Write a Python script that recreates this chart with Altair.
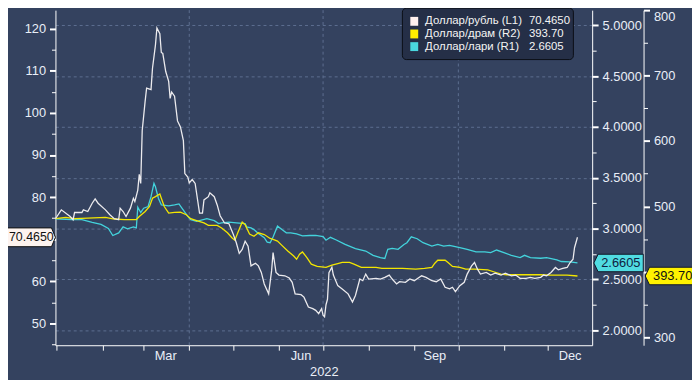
import altair as alt
import pandas as pd

# ---------------- data ----------------
START = pd.Timestamp("2021-12-31")  # day 0 of the day offsets below

rub_days = [0, 4, 10, 12, 13, 18, 19, 22, 25, 27, 29, 34, 37, 40, 43, 44, 46, 48, 51, 53,
            54, 56, 57, 58, 59, 61, 62, 65, 66, 68, 69, 71, 72, 73, 75, 77, 78, 79, 81, 83,
            85, 87, 88, 90, 91, 93, 95, 98, 100, 101, 104, 105, 108, 110, 112, 115, 118, 121, 123, 125,
            127, 129, 131, 133, 136, 138, 140, 142, 145, 147, 148, 150, 152, 156, 159, 161, 163, 167, 169, 172,
            175, 177, 179, 181, 182, 183, 184, 185, 186, 188, 189, 192, 195, 199, 202, 204, 207, 209, 211, 213,
            218, 221, 224, 227, 229, 232, 234, 238, 241, 244, 249, 252, 256, 259, 262, 265, 268, 270, 272, 275,
            278, 280, 283, 285, 287, 289, 293, 296, 299, 303, 306, 310, 313, 316, 320, 323, 326, 330, 332, 334,
            337, 340, 342, 345, 348, 350, 352, 353, 355]
rub_vals = [74.87, 76.98, 75.41, 74.63, 76.35, 76.35, 76.98, 76.58, 78.55, 79.56,
            78.55, 76.98, 75.81, 74.87, 74.63, 77.38, 76.58, 75.41, 77.38, 79.72,
            78.93, 81.67, 85.42, 83.24, 95.75, 102.79, 105.9, 105.53, 110.6, 116.09,
            120.15, 118.81, 114.35, 114.12, 109.82, 107.48, 103.42, 104.97, 103.96, 98.09,
            96.68, 93.40, 85.59, 84.79, 83.38, 84.18, 83.24, 76.2, 76.2, 79.33,
            80.1, 81.04, 80.1, 78.15, 75.57, 73.86, 73.69, 71.11, 69.17, 66.66,
            67.6, 69.54, 68.37, 63.68, 64.31, 63.68, 62.13, 59.38, 57.04, 62.55,
            66.82, 62.13, 61.5, 61.33, 60.79, 59.78, 57.04, 56.85, 56.26, 53.92,
            53.52, 53.12, 52.35, 53.52, 51.95, 51.57, 54.46, 55.75, 62.08, 63.37,
            61.5, 58.99, 58.21, 57.04, 55.09, 56.64, 60.56, 60.16, 61.73, 60.56,
            60.72, 60.56, 60.96, 61.5, 60.56, 59.38, 59.92, 59.78, 60.56, 60.16,
            61.33, 60.96, 60.16, 59.92, 60.56, 58.61, 58.21, 58.61, 57.58, 58.99,
            59.78, 61.73, 63.68, 64.47, 62.9, 61.73, 62.13, 61.5, 61.96, 61.5,
            61.96, 61.33, 61.5, 60.72, 60.72, 60.96, 60.72, 60.96, 61.5, 61.33,
            62.13, 63.3, 62.74, 63.07, 63.3, 64.47, 65.25, 67.99, 70.465]

lari_days = [0, 11, 18, 25, 31, 36, 39, 43, 46, 49, 53, 55, 56, 58, 60, 63, 65, 67, 68, 70,
             72, 77, 81, 84, 86, 90, 92, 96, 103, 108, 111, 113, 118, 123, 129, 130, 133, 135, 138, 142,
             144, 146, 148, 151, 154, 157, 160, 164, 168, 173, 177, 182, 184, 187, 191, 197, 204, 211, 216, 221,
             224, 226, 229, 233, 237, 239, 242, 246, 250, 256, 260, 264, 268, 275, 280, 286, 292, 296, 300, 305,
             310, 316, 319, 323, 330, 334, 341, 344, 350, 355]
lari_vals = [3.096, 3.087, 3.087, 3.06, 3.04, 3.0, 2.931, 2.957, 3.016, 2.996,
             3.016, 3.006, 3.21, 3.158, 3.2, 3.216, 3.313, 3.444, 3.411, 3.298,
             3.233, 3.223, 3.233, 3.242, 3.2, 3.119, 3.087, 3.07, 3.096, 3.077,
             3.048, 3.055, 3.062, 3.055, 3.048, 3.016, 3.006, 2.989, 2.95, 2.909,
             2.866, 2.86, 2.916, 3.023, 2.989, 2.957, 2.957, 2.948, 2.928, 2.931,
             2.933, 2.921, 2.885, 2.913, 2.887, 2.843, 2.802, 2.778, 2.736, 2.714,
             2.705, 2.795, 2.805, 2.795, 2.843, 2.86, 2.918, 2.899, 2.86, 2.827,
             2.843, 2.827, 2.834, 2.811, 2.795, 2.769, 2.769, 2.763, 2.788, 2.763,
             2.736, 2.714, 2.736, 2.714, 2.707, 2.714, 2.691, 2.675, 2.671, 2.6605]

dram_days = [0, 7, 13, 22, 34, 40, 47, 55, 57, 61, 64, 66, 68, 71, 72, 74, 77, 81, 85, 89,
             92, 96, 101, 104, 110, 113, 117, 120, 122, 124, 127, 129, 132, 135, 138, 142, 146, 148, 151, 154,
             158, 162, 164, 166, 168, 171, 174, 178, 184, 188, 192, 195, 200, 203, 208, 213, 218, 222, 229, 236,
             245, 251, 256, 258, 260, 265, 267, 270, 275, 279, 285, 294, 298, 303, 307, 321, 330, 336, 348, 355]
dram_vals = [481.3, 483.2, 481.3, 482.3, 483.2, 480.8, 479.8, 479.8, 484.7, 492.3,
             499.9, 512.5, 515.0, 519.0, 512.5, 499.9, 489.9, 490.8, 491.4, 487.3,
             481.3, 478.3, 474.8, 471.1, 471.1, 467.2, 459.7, 452.1, 448.5, 459.7,
             476.0, 472.2, 457.9, 454.5, 459.7, 457.1, 451.1, 449.6, 447.0, 440.5,
             431.9, 424.3, 419.3, 426.9, 430.4, 421.9, 411.8, 408.3, 406.8, 410.3,
             412.8, 414.4, 414.4, 411.8, 406.8, 406.8, 406.8, 405.3, 405.3, 405.3,
             404.2, 405.3, 406.8, 413.3, 417.8, 417.8, 414.4, 408.3, 406.8, 404.2,
             404.2, 403.2, 400.2, 396.7, 395.6, 395.6, 395.6, 395.2, 395.2, 393.7]

month_names = ["Mar", "Jun", "Sep", "Dec"]
month_mid = ["2022-03-16", "2022-06-16", "2022-09-15", "2022-12-16"]
vgrid_dates = ["2022-04-01", "2022-07-01", "2022-10-01"]

legend_labels = ["Доллар/рубль (L1)", "Доллар/драм (R2)", "Доллар/лари (R1)"]
legend_values = ["70.4650", "393.70", "2.6605"]
last_rub, last_dram, last_lari = 70.4650, 393.70, 2.6605

# ---------------- styling ----------------
W, H = 543, 339
BG = "#34425f"
GRID = "#5d6e90"
TXT = "#e9eef7"
FONT = "Liberation Sans"
C_RUB, C_DRAM, C_LARI = "#ecebee", "#f3e600", "#43d3dc"
LEG_COLORS = ["#fff0ee", "#ffee00", "#4ad8df"]


def frame(days, vals):
    return pd.DataFrame({"date": START + pd.to_timedelta(days, unit="D"), "v": vals})


rub_df = frame(rub_days, rub_vals)
lari_df = frame(lari_days, lari_vals)
dram_df = frame(dram_days, dram_vals)

X = alt.X(
    "date:T",
    title="2022",
    scale=alt.Scale(domain=[alt.DateTime(year=2021, month=12, date=31),
                            alt.DateTime(year=2022, month=12, date=31)], nice=False),
    axis=alt.Axis(values=[alt.DateTime(year=2022, month=m, date=1) for m in range(1, 13)],
                  labels=False, grid=False, tickSize=5, tickColor="white", domainColor="white",
                  titlePadding=15, titleColor=TXT, titleFontSize=13, titleFontWeight="normal",
                  titleFont=FONT),
)

maj10 = "datum.value % 10 == 0"
Y_RUB = alt.Y("v:Q", scale=alt.Scale(domain=[44.84, 124.39], nice=False, zero=False),
              axis=alt.Axis(orient="left", title=None, grid=False, values=list(range(45, 125, 5)),
                            format="d",
                            labelExpr="(datum.value % 10 == 0 && datum.value != 70) ? datum.label : ''",
                            tickSize={"condition": {"test": maj10, "value": 6}, "value": 4},
                            tickWidth={"condition": {"test": maj10, "value": 2}, "value": 1},
                            labelPadding=4))

maj_half = "abs(datum.value * 2 - round(datum.value * 2)) < 0.001"
Y_LARI = alt.Y("v:Q", scale=alt.Scale(domain=[1.851, 5.149], nice=False, zero=False),
               axis=alt.Axis(orient="right", title=None, values=[2.0 + 0.25 * i for i in range(13)],
                             format=".4f", labelExpr=f"({maj_half}) ? datum.label : ''",
                             grid=True, gridColor=GRID, gridDash=[3, 3],
                             gridOpacity={"condition": {"test": maj_half, "value": 1}, "value": 0},
                             tickSize={"condition": {"test": maj_half, "value": 6}, "value": 4},
                             tickWidth={"condition": {"test": maj_half, "value": 2}, "value": 1},
                             labelPadding=4))

maj100 = "datum.value % 100 == 0"
Y_DRAM = alt.Y("v:Q", scale=alt.Scale(domain=[287.9, 800.0], nice=False, zero=False),
               axis=alt.Axis(orient="right", offset=52, title=None, grid=False,
                             values=list(range(300, 801, 50)), format="d",
                             labelExpr="(datum.value % 100 == 0 && datum.value != 400) ? datum.label : ''",
                             labelOffset={"condition": {"test": "datum.value == 800", "value": 6}, "value": 0},
                             tickSize={"condition": {"test": maj100, "value": 6}, "value": 4},
                             tickWidth={"condition": {"test": maj100, "value": 2}, "value": 1},
                             labelPadding=4))

# vertical dashed grid + month labels
vgrid = alt.Chart(pd.DataFrame({"date": pd.to_datetime(vgrid_dates)})).mark_rule(
    color=GRID, strokeDash=[3, 3], strokeWidth=1).encode(x=X, y=alt.value(0), y2=alt.value(H))
months = alt.Chart(pd.DataFrame({"date": pd.to_datetime(month_mid), "name": month_names})).mark_text(
    baseline="middle", align="center", fontSize=13, color=TXT, font=FONT).encode(
    x=X, y=alt.value(H + 11), text="name:N")

# series lines
rub_line = alt.Chart(rub_df).mark_line(color=C_RUB, strokeWidth=1.3).encode(x=X, y=Y_RUB)
lari_line = alt.Chart(lari_df).mark_line(color=C_LARI, strokeWidth=1.3).encode(x=X, y=Y_LARI)
dram_line = alt.Chart(dram_df).mark_line(color=C_DRAM, strokeWidth=1.3).encode(x=X, y=Y_DRAM)

# value tags
TAG_RIGHT = "M-1,-0.339L0.857,-0.339L1,0L0.857,0.339L-1,0.339Z"
TAG_LEFT = "M-1,0L-0.828,-0.354L1,-0.354L1,0.354L-0.828,0.354Z"

rub_tag_df = pd.DataFrame({"v": [last_rub], "t": [legend_values[0]]})
rub_tag = alt.Chart(rub_tag_df).mark_point(shape=TAG_RIGHT, size=3136, filled=True, fill="#fdf3ef",
                                           stroke="#111111", strokeWidth=1, opacity=1).encode(
    x=alt.value(-28), y=Y_RUB)
rub_tag_t = alt.Chart(rub_tag_df).mark_text(align="left", baseline="middle", fontSize=12.5,
                                            color="#111111", font=FONT).encode(
    x=alt.value(-47), y=Y_RUB, text="t:N")

lari_tag_df = pd.DataFrame({"v": [last_lari], "t": [legend_values[2]]})
lari_tag = alt.Chart(lari_tag_df).mark_point(shape=TAG_LEFT, size=2500, filled=True, fill="#50dbe1",
                                             stroke="#101828", strokeWidth=1, opacity=1).encode(
    x=alt.value(569.7), y=Y_LARI)
lari_tag_t = alt.Chart(lari_tag_df).mark_text(align="center", baseline="middle", fontSize=13,
                                              color="#0f1d40", font=FONT).encode(
    x=alt.value(572), y=Y_LARI, text="t:N")

dram_tag_df = pd.DataFrame({"v": [last_dram], "t": [legend_values[1]]})
dram_tag = alt.Chart(dram_tag_df).mark_point(shape=TAG_LEFT, size=2500, filled=True, fill="#fff200",
                                             stroke="#101828", strokeWidth=1, opacity=1).encode(
    x=alt.value(621.7), y=Y_DRAM)
dram_tag_t = alt.Chart(dram_tag_df).mark_text(align="center", baseline="middle", fontSize=13,
                                              color="#111111", font=FONT).encode(
    x=alt.value(624.5), y=Y_DRAM, text="t:N")

rub_group = alt.layer(rub_line, rub_tag, rub_tag_t)
lari_group = alt.layer(lari_line, lari_tag, lari_tag_t)
dram_group = alt.layer(dram_line, dram_tag, dram_tag_t)

# legend box
one = pd.DataFrame({"a": [0]})
legend_layers = [
    alt.Chart(one).mark_rect(fill="#252f47", stroke="#0b0e16", strokeWidth=1, cornerRadius=4).encode(
        x=alt.value(351), x2=alt.value(524), y=alt.value(-2), y2=alt.value(50))
]
for i, (lab, val, col) in enumerate(zip(legend_labels, legend_values, LEG_COLORS)):
    yc = 11.3 + 12.8 * i
    row = pd.DataFrame({"lab": [lab], "val": [val]})
    legend_layers.append(alt.Chart(row).mark_rect(fill=col).encode(
        x=alt.value(359), x2=alt.value(367), y=alt.value(yc - 4.5), y2=alt.value(yc + 4.5)))
    legend_layers.append(alt.Chart(row).mark_text(align="left", baseline="middle", fontSize=11.5,
                                                  color="#f4f4f4", font=FONT).encode(
        x=alt.value(374), y=alt.value(yc), text="lab:N"))
    legend_layers.append(alt.Chart(row).mark_text(align="left", baseline="middle", fontSize=11.5,
                                                  color="#f4f4f4", font=FONT).encode(
        x=alt.value(479), y=alt.value(yc), text="val:N"))

chart = alt.layer(
    vgrid, months, lari_group, dram_group, rub_group, *legend_layers
).resolve_scale(y="independent").properties(
    width=W, height=H,
    autosize=alt.AutoSizeParams(type="none"),
    padding={"left": 48, "top": 0, "right": 101, "bottom": 33},
    background=BG,
).configure_view(stroke=None).configure_axis(
    labelFont=FONT, labelFontSize=13, labelColor=TXT, domainColor="white", tickColor="white",
    domainWidth=1,
)

chart.save("out.html", embed_options={"renderer": "svg", "actions": False})
